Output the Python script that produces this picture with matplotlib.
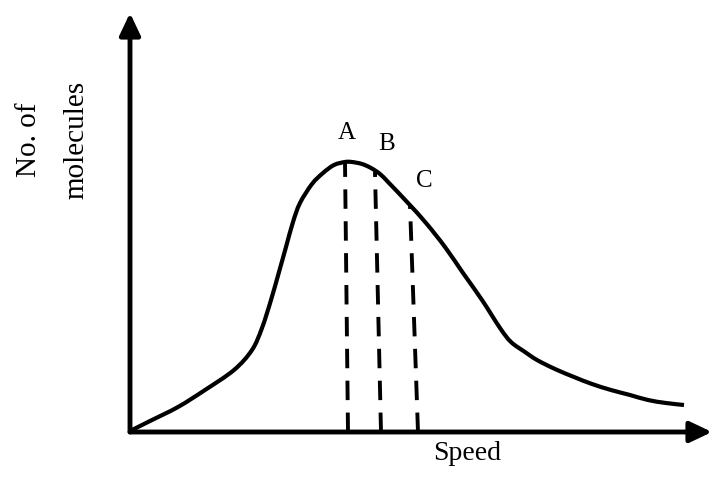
import matplotlib
matplotlib.use("Agg")
import matplotlib.pyplot as plt
import numpy as np
from matplotlib.patches import FancyArrowPatch, PathPatch
from matplotlib.path import Path

# Curve (speed, number of molecules) in arbitrary units
speed = [0, 20, 48, 75, 104, 122, 132, 141, 149, 156, 163, 170, 182, 193, 204, 215,
         222, 232, 241, 250, 259, 278, 296, 315, 333, 352, 370, 381, 395, 407,
         425, 444, 462, 481, 500, 518, 536, 554]
molecules = [1, 11, 25, 42, 62, 82, 104, 132, 160, 185, 210, 229, 248, 259, 267, 270,
             270, 268, 264, 258, 249, 229, 209, 185, 159, 132, 104, 90, 80, 72,
             63, 55, 48, 42, 37, 32, 29, 27]

# Dashed guide lines: (bottom speed, top speed, top height)
guide_names = ["A", "B", "C"]
guide_bottom = [218, 251, 288]
guide_top_x = [215, 245, 280]
guide_top_y = [270, 260, 227]
label_x = [217, 257, 294]
label_y = [299, 288, 251]

x_max = 570
y_max = 417
x_arrow = 582
y_arrow = 419

fig = plt.figure(figsize=(7.18, 4.80), dpi=100)
ax = fig.add_axes([130 / 718, 48 / 480, 570 / 718, 417 / 480])
ax.set_xlim(0, x_max)
ax.set_ylim(0, y_max)
ax.axis("off")

serif = ["Liberation Serif", "DejaVu Serif"]

# Smooth curve through the read points (Catmull-Rom drawn as cubic Bezier segments)
pts = np.column_stack([speed, molecules]).astype(float)
verts = [pts[0]]
codes = [Path.MOVETO]
n = len(pts)
for i in range(n - 1):
    p0 = pts[i - 1] if i > 0 else pts[i]
    p1 = pts[i]
    p2 = pts[i + 1]
    p3 = pts[i + 2] if i + 2 < n else pts[i + 1]
    c1 = p1 + (p2 - p0) / 6.0
    c2 = p2 - (p3 - p1) / 6.0
    verts += [c1, c2, p2]
    codes += [Path.CURVE4] * 3
ax.add_patch(PathPatch(Path(verts, codes), fill=False, edgecolor="black", lw=3.0,
                       capstyle="butt", joinstyle="round"))

for xb, xt, yt in zip(guide_bottom, guide_top_x, guide_top_y):
    ax.plot([xb, xt], [0, yt], color="black", lw=2.8, linestyle=(0, (5, 3.2)))

for name, lx, ly in zip(guide_names, label_x, label_y):
    ax.text(lx, ly, name, ha="center", va="center", fontsize=18, family=serif)

# Axes with arrows
style = "-|>,head_length=0.95,head_width=0.45"
ax.add_patch(FancyArrowPatch((0, 0), (x_arrow, 0), arrowstyle=style,
                             mutation_scale=14, color="black", lw=3.5, clip_on=False,
                             shrinkA=0, shrinkB=0))
ax.add_patch(FancyArrowPatch((0, 0), (0, y_arrow), arrowstyle=style,
                             mutation_scale=14, color="black", lw=3.5, clip_on=False,
                             shrinkA=0, shrinkB=0))

fig.text(467 / 718, 1 - 453 / 480, "Speed", ha="center", va="center", fontsize=20,
         family=serif)
fig.text(29 / 718, 1 - 140 / 480, "No. of", ha="center", va="center", fontsize=21,
         family=serif, rotation=90)
fig.text(76 / 718, 1 - 140 / 480, "molecules", ha="center", va="center", fontsize=21,
         family=serif, rotation=90)

fig.savefig("out.png", dpi=100, facecolor="white")
